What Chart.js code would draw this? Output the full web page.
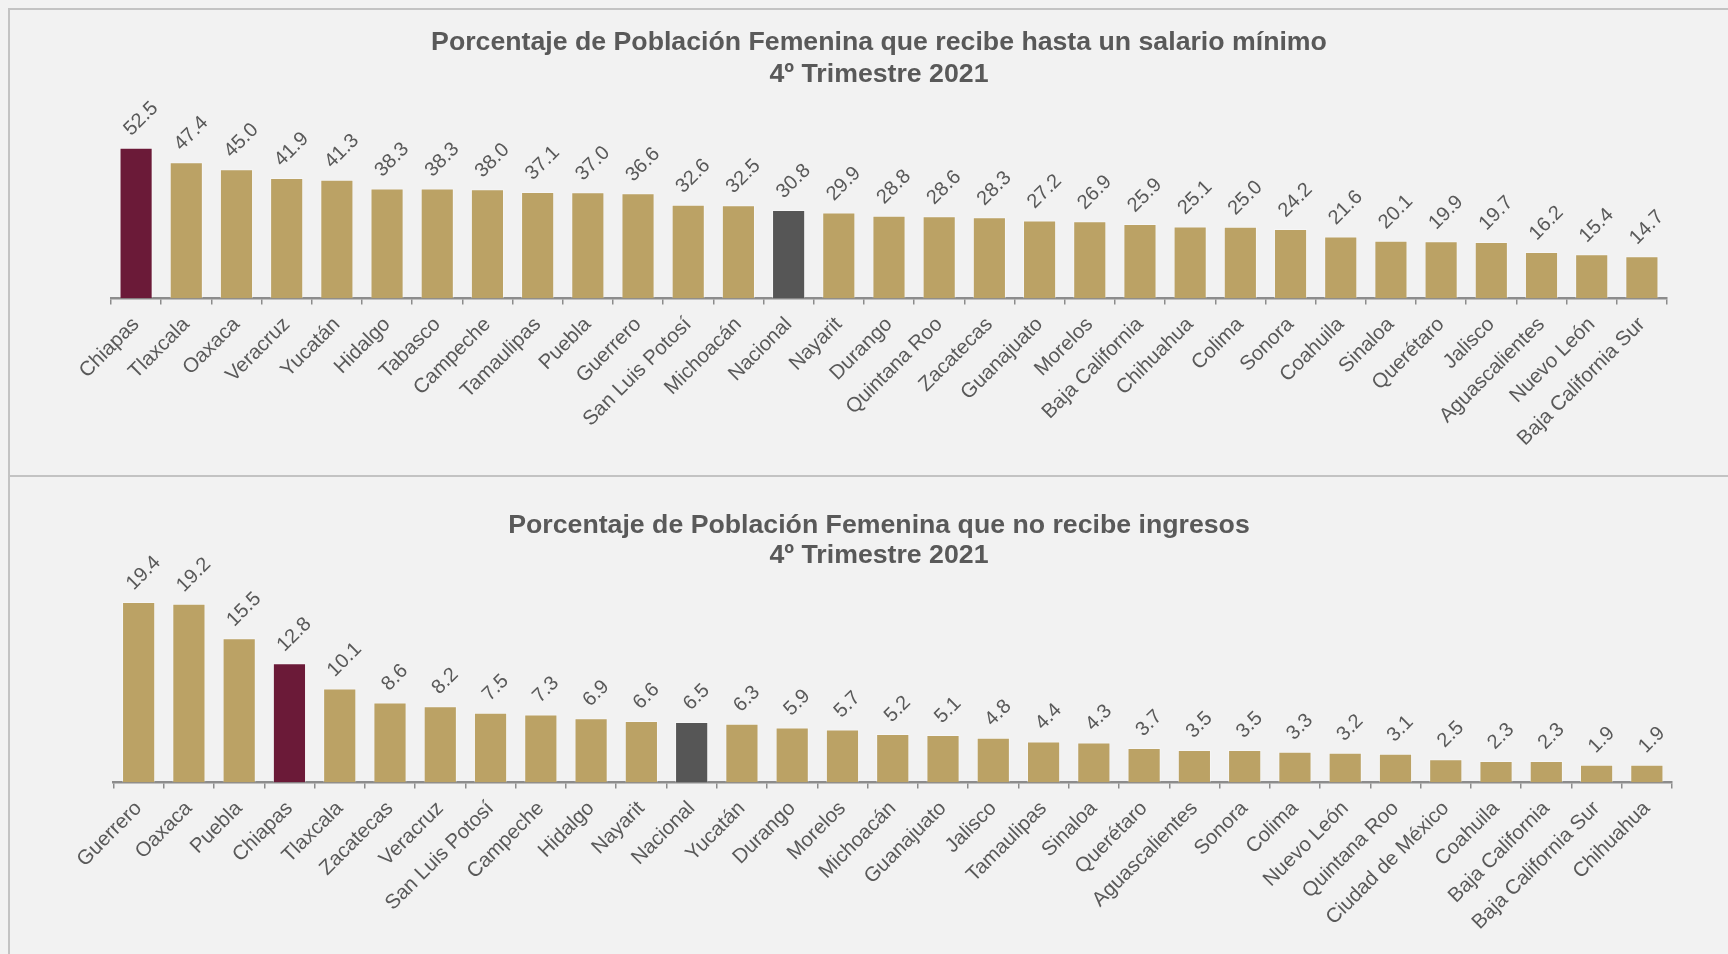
<!DOCTYPE html>
<html lang="es">
<head>
<meta charset="utf-8">
<title>Población Femenina - 4º Trimestre 2021</title>
<script src="https://cdn.jsdelivr.net/npm/chart.js@4.4.1/dist/chart.umd.min.js"></script>
<style>
  body { margin: 0; background: #f2f2f2; }
  #lienzo { position: relative; width: 1728px; height: 954px; overflow: hidden; background: #f2f2f2; }
  .linea { position: absolute; background: #c3c3c3; }
  canvas { position: absolute; left: 0; }
</style>
</head>
<body>
<div id="lienzo">
  <div class="linea" style="left:8px; top:8px; width:1720px; height:2px;"></div>
  <div class="linea" style="left:8px; top:8px; width:2px; height:946px;"></div>
  <div class="linea" style="left:8px; top:475px; width:1720px; height:2px;"></div>
  <canvas id="graficoSalario" width="1728" height="476" style="top:0"></canvas>
  <canvas id="graficoIngresos" width="1728" height="477" style="top:477px"></canvas>
</div>
<script>
// Datos: hasta un salario mínimo
const estadosSalario = ["Chiapas", "Tlaxcala", "Oaxaca", "Veracruz", "Yucatán", "Hidalgo", "Tabasco",
  "Campeche", "Tamaulipas", "Puebla", "Guerrero", "San Luis Potosí", "Michoacán", "Nacional", "Nayarit",
  "Durango", "Quintana Roo", "Zacatecas", "Guanajuato", "Morelos", "Baja California", "Chihuahua",
  "Colima", "Sonora", "Coahuila", "Sinaloa", "Querétaro", "Jalisco", "Aguascalientes", "Nuevo León",
  "Baja California Sur"];
const valoresSalario = [52.5, 47.4, 45.0, 41.9, 41.3, 38.3, 38.3, 38.0, 37.1, 37.0, 36.6, 32.6, 32.5,
  30.8, 29.9, 28.8, 28.6, 28.3, 27.2, 26.9, 25.9, 25.1, 25.0, 24.2, 21.6, 20.1, 19.9, 19.7, 16.2, 15.4, 14.7];

// Datos: no recibe ingresos
const estadosIngresos = ["Guerrero", "Oaxaca", "Puebla", "Chiapas", "Tlaxcala", "Zacatecas", "Veracruz",
  "San Luis Potosí", "Campeche", "Hidalgo", "Nayarit", "Nacional", "Yucatán", "Durango", "Morelos",
  "Michoacán", "Guanajuato", "Jalisco", "Tamaulipas", "Sinaloa", "Querétaro", "Aguascalientes", "Sonora",
  "Colima", "Nuevo León", "Quintana Roo", "Ciudad de México", "Coahuila", "Baja California",
  "Baja California Sur", "Chihuahua"];
const valoresIngresos = [19.4, 19.2, 15.5, 12.8, 10.1, 8.6, 8.2, 7.5, 7.3, 6.9, 6.6, 6.5, 6.3, 5.9, 5.7,
  5.2, 5.1, 4.8, 4.4, 4.3, 3.7, 3.5, 3.5, 3.3, 3.2, 3.1, 2.5, 2.3, 2.3, 1.9, 1.9];

const titulosSalario = ["Porcentaje de Población Femenina que recibe hasta un salario mínimo", "4º Trimestre 2021"];
const titulosIngresos = ["Porcentaje de Población Femenina que no recibe ingresos", "4º Trimestre 2021"];

const DORADO = "#bba265";
const GUINDA = "#6b1a38";
const GRIS = "#565656";
const TEXTO = "#595959";
const FUENTE = '"Liberation Sans", Arial, sans-serif';

function colorBarra(estado) {
  if (estado === "Chiapas") return GUINDA;
  if (estado === "Nacional") return GRIS;
  return DORADO;
}

// etiquetas de valor giradas sobre cada barra
const etiquetasValor = {
  id: "etiquetasValor",
  afterDatasetsDraw(chart) {
    const ctx = chart.ctx;
    const meta = chart.getDatasetMeta(0);
    const datos = chart.data.datasets[0].data;
    ctx.save();
    ctx.font = "20px " + FUENTE;
    ctx.fillStyle = TEXTO;
    ctx.textAlign = "center";
    ctx.textBaseline = "middle";
    meta.data.forEach((barra, i) => {
      const texto = datos[i].toFixed(1);
      const w = ctx.measureText(texto).width;
      const alto = (w + 14) * 0.707;
      ctx.save();
      ctx.translate(barra.x + 5, barra.y - 10 - alto / 2);
      ctx.rotate(-Math.PI / 4);
      ctx.fillText(texto, 0, 0);
      ctx.restore();
    });
    ctx.restore();
  }
};

const titulo = {
  id: "titulo",
  afterDraw(chart, args, opts) {
    const ctx = chart.ctx;
    ctx.save();
    ctx.font = "bold 26.7px " + FUENTE;
    ctx.fillStyle = TEXTO;
    ctx.textAlign = "center";
    ctx.textBaseline = "middle";
    opts.lineas.forEach((linea, i) => ctx.fillText(linea, opts.x, opts.y[i]));
    ctx.restore();
  }
};

function crearGrafico(id, estados, valores, maximo, relleno, lineas, yTitulo) {
  const ctx = document.getElementById(id).getContext("2d");
  return new Chart(ctx, {
    type: "bar",
    data: {
      labels: estados,
      datasets: [{
        data: valores,
        backgroundColor: estados.map(colorBarra),
        borderColor: "rgba(255,255,255,0.35)",
        borderWidth: 1,
        barPercentage: 0.66,
        categoryPercentage: 1
      }]
    },
    options: {
      responsive: false,
      animation: false,
      layout: { padding: relleno },
      plugins: {
        legend: { display: false },
        tooltip: { enabled: false },
        titulo: { lineas, x: 879, y: yTitulo }
      },
      scales: {
        x: {
          afterFit: (escala) => { escala.height = 150; },
          grid: { drawOnChartArea: false, color: "#8c8c8c", lineWidth: 1.5, tickLength: 6 },
          border: { color: "#8c8c8c", width: 2.5 },
          ticks: {
            autoSkip: false, maxRotation: 45, minRotation: 45, padding: 8,
            color: TEXTO, font: { family: FUENTE, size: 20.5 }
          }
        },
        y: { display: false, min: 0, max: maximo }
      }
    },
    plugins: [etiquetasValor, titulo]
  });
}

crearGrafico("graficoSalario", estadosSalario, valoresSalario, 70,
  { top: 97.3, bottom: 27.4, left: 111, right: 61 }, titulosSalario, [43, 74.5]);
crearGrafico("graficoIngresos", estadosIngresos, valoresIngresos, 25,
  { top: 72.75, bottom: 21.5, left: 113.5, right: 56 }, titulosIngresos, [48.3, 78.3]);
</script>
</body>
</html>
